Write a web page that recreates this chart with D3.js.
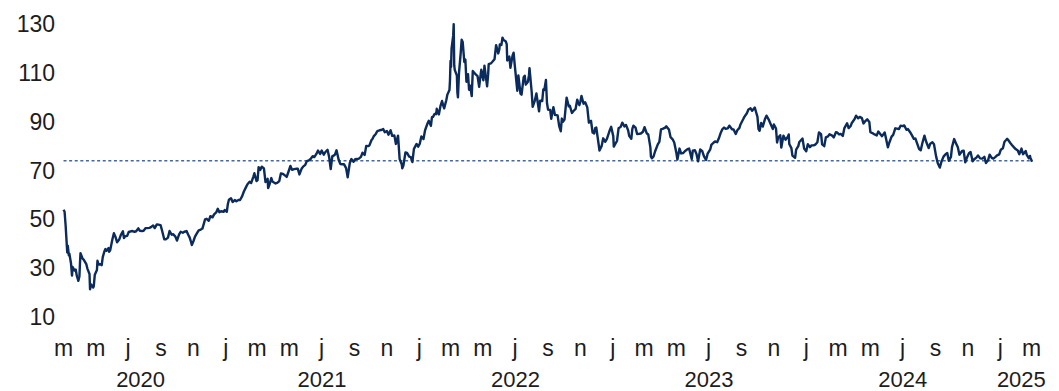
<!DOCTYPE html>
<html><head><meta charset="utf-8">
<script src="https://cdn.jsdelivr.net/npm/d3@7"></script>
<style>
body{margin:0;background:#fff}
svg{display:block}
text{font-family:"Century Gothic","Liberation Sans",Arial,sans-serif;fill:#1d1d1d}
</style>
</head><body>
<svg id="chart" width="1059" height="391"></svg>
<script>
// ---- data ----
const yTicks = [10, 30, 50, 70, 90, 110, 130];
const monthLetters = ["j","f","m","a","m","j","j","a","s","o","n","d"];
const yearLabels = ["2020","2021","2022","2023","2024","2025"];
const refLevel = 72;

const brent2020 = [["0302",51.9],["0304",51.1],["0306",45.3],["0309",34.4],["0310",37.2],["0312",33.2],["0313",33.9],["0316",30.1],["0318",24.9],["0319",28.5],["0323",27.0],["0325",27.4],["0327",24.9],["0330",22.8],["0401",24.7],["0402",29.9],["0403",34.1],["0407",31.9],["0409",31.5],["0414",29.6],["0416",27.8],["0420",25.6],["0421",19.3],["0423",21.3],["0427",20.0],["0428",20.5],["0430",25.3],["0504",27.2],["0505",31.0],["0507",29.5],["0511",29.6],["0513",29.2],["0515",32.5],["0518",34.8],["0520",35.8],["0522",35.1],["0526",36.2],["0527",34.7],["0529",35.3],["0602",39.6],["0605",42.3],["0608",40.8],["0611",38.6],["0615",39.7],["0618",41.5],["0622",43.1],["0624",40.3],["0626",41.0],["0630",41.2],["0703",42.8],["0707",43.1],["0710",43.2],["0714",42.9],["0717",43.1],["0721",44.3],["0724",43.3],["0728",43.2],["0731",43.3],["0804",44.4],["0807",44.4],["0811",44.5],["0814",44.8],["0818",45.5],["0821",44.4],["0825",45.9],["0828",45.8],["0901",45.6],["0903",44.1],["0908",39.8],["0911",39.8],["0915",40.5],["0918",43.2],["0922",41.7],["0925",41.9],["0929",40.9],["1002",39.3],["1006",41.8],["1009",42.9],["1013",42.5],["1016",42.9],["1020",43.2],["1023",41.8],["1026",40.5],["1028",39.1],["1030",37.5],["1102",39.0],["1105",40.9],["1109",42.4],["1112",43.5],["1116",43.8],["1119",44.2],["1124",48.0],["1127",48.2],["1201",47.4],["1204",49.3],["1208",48.8],["1211",50.0],["1215",50.8],["1218",52.3],["1221",50.9],["1224",51.3],["1229",51.1],["1231",51.8]];

const brent2021 = [["0104",51.1],["0106",54.3],["0108",56.0],["0112",56.6],["0115",55.1],["0119",55.9],["0122",55.4],["0126",55.9],["0129",55.9],["0202",57.5],["0205",59.3],["0209",61.1],["0212",62.4],["0216",63.4],["0219",62.9],["0223",65.4],["0225",66.9],["0301",63.7],["0303",64.1],["0305",69.4],["0308",68.2],["0311",69.6],["0315",68.9],["0318",63.3],["0322",64.6],["0323",60.8],["0325",61.9],["0329",64.9],["0331",63.5],["0406",62.7],["0409",62.9],["0413",63.7],["0416",66.8],["0420",66.6],["0423",66.1],["0427",65.4],["0430",67.3],["0504",69.9],["0507",68.3],["0511",68.6],["0514",68.7],["0518",68.7],["0521",66.4],["0525",68.7],["0528",69.6],["0601",70.3],["0604",71.9],["0608",72.2],["0611",72.7],["0615",73.9],["0618",73.5],["0622",74.8],["0625",76.2],["0629",74.8],["0702",76.2],["0706",74.5],["0709",75.6],["0713",76.5],["0716",73.6],["0719",68.6],["0722",73.8],["0727",74.5],["0730",76.3],["0803",72.4],["0806",70.7],["0810",70.6],["0813",70.6],["0817",69.0],["0820",65.2],["0824",71.1],["0827",72.7],["0831",71.6],["0903",72.6],["0907",72.7],["0910",72.9],["0914",73.6],["0917",75.3],["0921",74.4],["0924",78.1],["0928",78.0],["0930",78.3],["1004",80.5],["1006",81.0],["1008",82.0],["1012",83.0],["1015",84.2],["1019",84.5],["1022",84.6],["1026",85.0],["1029",83.7],["1102",84.2],["1105",82.7],["1109",84.5],["1112",82.2],["1116",82.4],["1119",78.9],["1123",82.3],["1126",72.7],["1130",70.6],["1201",68.9],["1203",69.9],["1207",75.4],["1210",75.2],["1214",73.7],["1217",73.5],["1220",71.5],["1223",76.9],["1228",78.9],["1231",77.8]];

const brent2022 = [["0103",79.0],["0104",80.0],["0106",82.0],["0110",80.9],["0113",84.5],["0118",87.5],["0120",88.4],["0124",86.3],["0126",89.9],["0128",90.0],["0131",91.2],["0203",91.1],["0204",93.3],["0208",91.0],["0211",94.4],["0214",96.5],["0216",94.8],["0218",93.5],["0222",96.8],["0224",99.1],["0228",101.0],["0301",105.0],["0302",112.9],["0303",110.5],["0304",118.1],["0307",123.2],["0308",128.0],["0309",111.1],["0310",109.3],["0314",106.9],["0315",99.9],["0316",98.0],["0318",108.0],["0321",115.6],["0323",121.6],["0325",120.7],["0328",112.5],["0330",113.5],["0401",104.4],["0404",107.5],["0406",101.1],["0408",102.8],["0411",98.5],["0413",108.8],["0419",107.3],["0422",106.7],["0425",102.3],["0428",107.6],["0429",109.3],["0503",105.0],["0505",111.0],["0510",102.5],["0512",107.5],["0513",111.6],["0517",111.9],["0520",112.6],["0524",113.6],["0527",119.4],["0531",116.0],["0602",117.6],["0603",119.7],["0606",119.5],["0608",122.5],["0610",121.5],["0614",121.0],["0616",119.8],["0617",113.1],["0621",114.7],["0623",110.1],["0627",115.1],["0629",116.3],["0701",111.6],["0705",102.8],["0706",100.7],["0708",107.0],["0712",99.5],["0714",99.1],["0718",106.3],["0720",106.9],["0722",103.2],["0726",104.4],["0728",107.1],["0729",110.0],["0802",100.5],["0804",94.1],["0808",96.7],["0811",99.6],["0816",92.3],["0818",96.6],["0822",96.5],["0824",101.2],["0826",101.0],["0829",105.1],["0831",95.6],["0902",93.0],["0906",92.8],["0908",89.2],["0912",94.0],["0915",90.8],["0920",90.6],["0923",86.2],["0926",84.1],["0928",89.3],["0930",88.0],["1003",88.9],["1005",93.4],["1007",97.9],["1011",94.3],["1013",94.6],["1017",91.6],["1020",92.4],["1024",93.3],["1027",97.0],["1031",94.8],["1102",96.2],["1104",98.6],["1108",95.4],["1111",96.0],["1115",93.9],["1118",87.6],["1122",88.4],["1125",83.6],["1128",83.2],["1130",85.4],["1202",85.6],["1206",79.4],["1208",76.2],["1212",78.0],["1215",81.2],["1219",79.8],["1222",81.0],["1227",84.3],["1230",85.9]];

const brent2023 = [["0103",82.1],["0104",77.8],["0106",78.6],["0110",80.1],["0113",85.3],["0117",85.9],["0120",87.6],["0124",86.1],["0127",86.7],["0131",84.5],["0202",82.2],["0206",81.0],["0208",85.1],["0210",86.4],["0214",85.6],["0217",83.0],["0221",83.1],["0224",83.2],["0228",83.9],["0303",85.8],["0307",83.3],["0310",82.8],["0314",77.5],["0315",73.7],["0317",73.0],["0320",73.8],["0323",75.9],["0328",78.7],["0331",79.8],["0403",84.9],["0406",85.1],["0411",85.6],["0413",86.1],["0418",84.8],["0421",81.7],["0425",80.8],["0428",79.5],["0502",75.3],["0504",72.5],["0508",77.0],["0511",75.0],["0515",75.2],["0518",75.9],["0523",76.8],["0526",77.0],["0531",72.7],["0602",76.1],["0606",76.3],["0609",74.8],["0612",71.8],["0616",76.6],["0620",75.9],["0623",73.9],["0627",72.3],["0630",74.9],["0705",76.7],["0707",78.5],["0711",79.4],["0714",79.9],["0718",79.6],["0721",81.1],["0725",83.6],["0728",85.0],["0731",85.6],["0803",85.1],["0807",85.3],["0810",86.4],["0815",84.9],["0818",84.8],["0822",83.0],["0825",84.5],["0829",85.5],["0831",86.9],["0905",89.0],["0907",89.9],["0912",91.5],["0915",93.0],["0919",93.5],["0922",92.5],["0927",93.8],["0928",93.0],["1002",90.0],["1004",85.0],["1006",84.3],["1009",87.5],["1012",86.0],["1016",89.0],["1019",90.5],["1023",89.0],["1026",87.5],["1031",85.0],["1102",86.9],["1106",85.2],["1108",79.5],["1110",81.4],["1114",82.5],["1116",77.4],["1120",82.3],["1124",80.6],["1128",81.7],["1130",82.8],["1201",78.9],["1205",77.2],["1207",74.1],["1212",73.2],["1214",76.6],["1218",78.0],["1220",79.7],["1226",81.1],["1228",78.4],["1229",77.0]];

const brent2024 = [["0102",75.9],["0105",78.8],["0109",77.6],["0112",78.3],["0116",78.3],["0119",78.6],["0123",79.6],["0126",83.6],["0130",82.9],["0201",78.7],["0205",78.0],["0208",81.6],["0212",82.0],["0215",82.9],["0220",82.3],["0223",81.6],["0227",83.7],["0229",83.6],["0304",82.8],["0307",83.0],["0311",82.2],["0314",85.4],["0319",87.4],["0322",85.4],["0326",86.3],["0328",87.5],["0402",89.0],["0405",90.5],["0409",89.4],["0412",90.0],["0416",89.5],["0419",87.3],["0423",88.4],["0426",89.0],["0430",87.9],["0502",83.7],["0507",83.2],["0510",82.8],["0514",82.4],["0517",84.0],["0521",82.9],["0524",82.1],["0529",83.6],["0531",81.6],["0604",77.5],["0607",79.6],["0611",81.9],["0614",82.6],["0618",85.3],["0621",85.2],["0625",85.0],["0628",86.4],["0702",86.2],["0705",86.5],["0709",84.7],["0712",85.0],["0716",83.7],["0719",82.6],["0723",81.0],["0726",81.1],["0730",78.6],["0802",76.8],["0805",76.3],["0808",79.2],["0812",82.3],["0815",80.0],["0820",77.2],["0823",79.0],["0827",79.6],["0830",78.8],["0903",73.8],["0906",71.1],["0910",69.2],["0913",71.6],["0917",73.7],["0920",74.5],["0924",75.2],["0927",72.0],["1001",73.6],["1003",77.6],["1007",80.9],["1010",79.4],["1014",77.5],["1017",74.5],["1022",76.0],["1025",76.1],["1028",71.4],["1031",73.2],["1104",75.1],["1107",75.6],["1111",71.8],["1114",72.6],["1118",73.3],["1121",74.2],["1125",73.0],["1129",72.9],["1203",73.6],["1206",71.1],["1210",72.2],["1213",74.5],["1217",73.2],["1220",72.9],["1224",73.6],["1227",74.2],["1231",74.6]];

const brent2025 = [["0102",75.9],["0103",76.5],["0107",77.1],["0110",79.8],["0113",80.5],["0115",81.0],["0117",80.5],["0121",79.3],["0124",78.5],["0128",77.5],["0131",76.8],["0204",76.2],["0207",74.7],["0211",77.0],["0214",74.7],["0219",76.0],["0221",74.4],["0225",73.0],["0227",74.0],["0228",73.2],["0303",71.6]];

// ---- build ----
const parse = d3.timeParse("%Y%m%d");
const byYear = [[2020, brent2020],[2021, brent2021],[2022, brent2022],[2023, brent2023],[2024, brent2024],[2025, brent2025]];
const series = byYear.flatMap(([yr, arr]) => arr.map(([md, v]) => ({date: parse(yr + md), value: v})));

const svg = d3.select("#chart");
const plotLeft = 56, plotRight = 1043;

const x = d3.scaleTime()
  .domain([new Date(2020, 2, 1), new Date(2025, 2, 1)])
  .range([63, 1031]);
const y = d3.scaleLinear().domain([10, 130]).range([312, 19.3]);

// y axis labels
const yAxis = svg.append("g").attr("transform", "translate(55,0)")
  .call(d3.axisLeft(y).tickValues(yTicks).tickSize(0).tickPadding(0).tickFormat(d3.format("d")));
yAxis.select(".domain").remove();
yAxis.attr("font-family", null);
yAxis.selectAll("text")
  .attr("dy", "0.54em")
  .style("font-size", "23px")
  .attr("fill", "#1d1d1d");

// reference dashed line
const first = series[0], last = series[series.length - 1];
svg.append("line")
  .attr("x1", x(first.date)).attr("x2", x(last.date))
  .attr("y1", y(refLevel)).attr("y2", y(refLevel))
  .attr("stroke", "#46679a").attr("stroke-width", 1.3)
  .attr("stroke-dasharray", "3,2.6");

// price line
svg.append("path")
  .datum(series)
  .attr("fill", "none")
  .attr("stroke", "#0a2b5c")
  .attr("stroke-width", 2.4)
  .attr("stroke-linejoin", "round")
  .attr("d", d3.line().x(d => x(d.date)).y(d => y(d.value)));

// month labels
const monthTicks = d3.timeMonth.range(new Date(2020, 2, 1), new Date(2025, 2, 2), 2);
const xAxis = svg.append("g")
  .call(d3.axisBottom(x).tickValues(monthTicks).tickSize(0).tickPadding(0)
    .tickFormat(d => monthLetters[d.getMonth()]));
xAxis.select(".domain").remove();
xAxis.attr("font-family", null);
xAxis.selectAll("text")
  .attr("y", 356).attr("dy", 0)
  .style("font-size", "23px")
  .attr("fill", "#1d1d1d");

// year labels
const yearG = svg.append("g");
yearLabels.forEach(lbl => {
  const yr = +lbl;
  const a = Math.max(x(new Date(yr, 0, 1)), plotLeft);
  const b = Math.min(x(new Date(yr + 1, 0, 1)), plotRight);
  yearG.append("text")
    .attr("x", (a + b) / 2).attr("y", 386.5)
    .attr("text-anchor", "middle")
    .style("font-size", "22px")
    .text(lbl);
});
</script>
</body></html>
